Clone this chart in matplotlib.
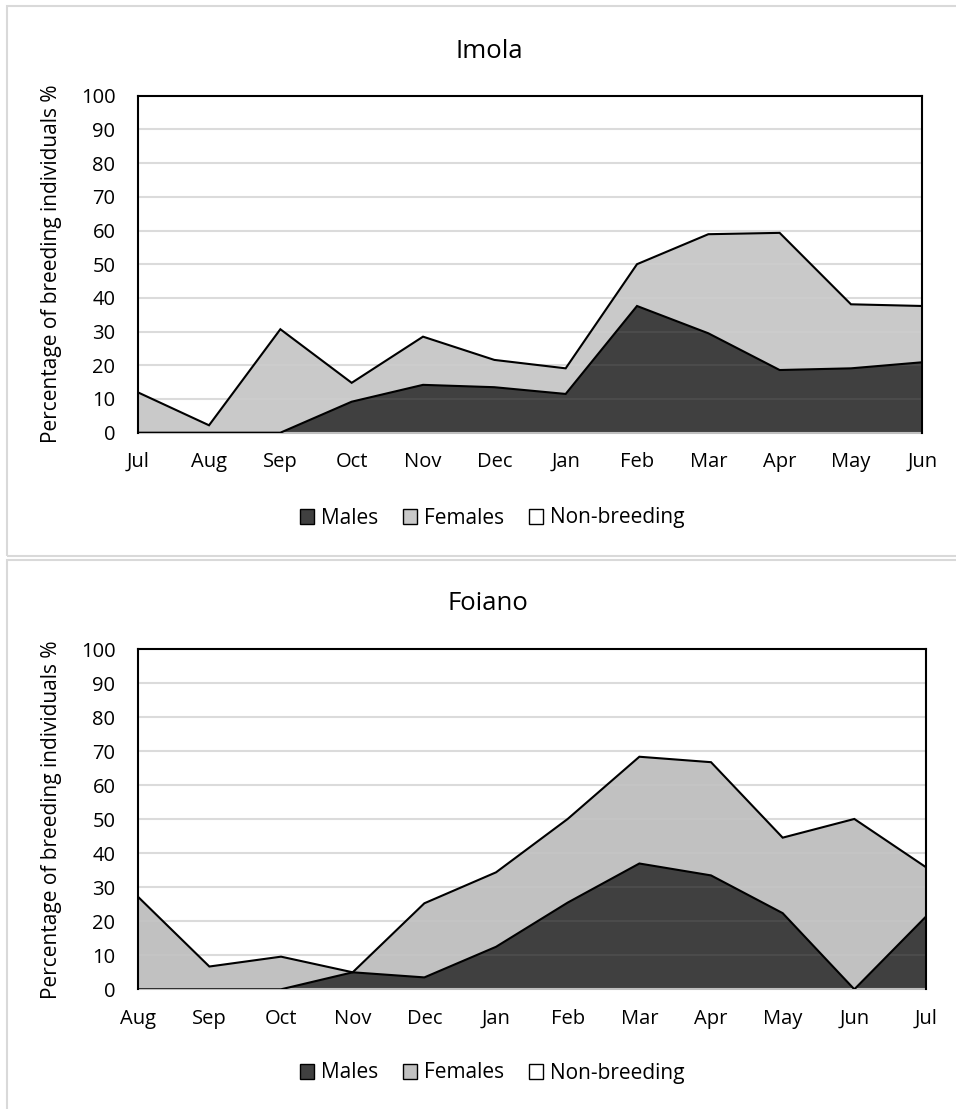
import numpy as np
import matplotlib.pyplot as plt
from matplotlib.patches import Rectangle, Patch

plt.rcParams['font.family'] = ['Open Sans', 'DejaVu Sans']

# Imola (Jul -> Jun)
imola_months = ['Jul', 'Aug', 'Sep', 'Oct', 'Nov', 'Dec', 'Jan', 'Feb', 'Mar', 'Apr', 'May', 'Jun']
imola_males = [0, 0, 0, 9.2, 14.2, 13.5, 11.5, 37.6, 29.5, 18.6, 19.1, 20.9]
imola_females = [12.0, 2.2, 30.7, 5.6, 14.3, 8.1, 7.6, 12.4, 29.4, 40.7, 19.0, 16.7]

# Foiano (Aug -> Jul)
foiano_months = ['Aug', 'Sep', 'Oct', 'Nov', 'Dec', 'Jan', 'Feb', 'Mar', 'Apr', 'May', 'Jun', 'Jul']
foiano_males = [0, 0, 0, 5.0, 3.5, 12.5, 25.5, 37.0, 33.5, 22.4, 0, 21.4]
foiano_females = [27.3, 6.7, 9.6, 0, 21.8, 21.9, 24.6, 31.4, 33.3, 22.2, 50.1, 14.5]

male_col = '#404040'
grid_col = '#d9d9d9'
W, H = 956, 1109

fig = plt.figure(figsize=(W / 100, H / 100), dpi=100)

# light gray chart-area borders (Excel chart boxes)
fig.patches.append(Rectangle((7 / W, 1 - 555.5 / H), 1.0, 549.5 / H,
                             transform=fig.transFigure, fill=False,
                             edgecolor=grid_col, linewidth=1.5))
fig.patches.append(Rectangle((7 / W, 1 - 1115 / H), 1.0, 555 / H,
                             transform=fig.transFigure, fill=False,
                             edgecolor=grid_col, linewidth=1.5))


def px_rect(left, top, right, bottom):
    return [left / W, 1 - bottom / H, (right - left) / W, (bottom - top) / H]


def draw_panel(rect, months, males, females, fem_col, title, title_xy, legend_xy):
    ax = fig.add_axes(rect)
    x = np.arange(len(months))
    m = np.array(males)
    tot = m + np.array(females)
    for yv in range(10, 100, 10):
        ax.axhline(yv, color=grid_col, linewidth=1.5, zorder=1)
    ax.fill_between(x, 0, m, facecolor=male_col, edgecolor='none', linewidth=0, zorder=2)
    ax.fill_between(x, m, tot, facecolor=fem_col, edgecolor='none', linewidth=0, zorder=2)
    # faint gridlines showing through the areas
    for yv in range(10, 100, 10):
        ax.axhline(yv, color='white', alpha=0.06, linewidth=1.5, zorder=2.5)
    ax.plot(x, m, color='black', linewidth=1.5, zorder=3, solid_joinstyle='miter')
    ax.plot(x, tot, color='black', linewidth=1.5, zorder=3, solid_joinstyle='miter')
    ax.set_xlim(0, len(months) - 1)
    ax.set_ylim(0, 100)
    ax.set_yticks(range(0, 101, 10))
    ax.set_xticks(x)
    ax.set_xticklabels(months)
    ax.tick_params(axis='both', length=0, labelsize=14.5, colors='black')
    ax.tick_params(axis='x', pad=14)
    ax.tick_params(axis='y', pad=16)
    for s in ['top', 'left', 'right']:
        ax.spines[s].set_color('black')
        ax.spines[s].set_linewidth(1.5)
        ax.spines[s].set_zorder(4)
    ax.spines['bottom'].set_color('#bfbfbf')
    ax.spines['bottom'].set_linewidth(1.5)
    ax.set_ylabel('Percentage of breeding individuals %', fontsize=15)
    ax.yaxis.set_label_coords((62 - 137.7) / (rect[2] * W), 0.5)
    fig.text(title_xy[0] / W, 1 - title_xy[1] / H, title,
             ha='center', va='center', fontsize=18.5)
    handles = [Patch(facecolor=male_col, edgecolor='black', label='Males'),
               Patch(facecolor=fem_col, edgecolor='black', label='Females'),
               Patch(facecolor='white', edgecolor='black', label='Non-breeding')]
    fig.legend(handles=handles, loc='center',
               bbox_to_anchor=(legend_xy[0] / W, 1 - legend_xy[1] / H),
               ncol=3, frameon=False, fontsize=15, handlelength=0.7, handleheight=0.7,
               handletextpad=0.3, columnspacing=1.2, borderpad=0)
    return ax


draw_panel(px_rect(137.7, 95.7, 922.3, 432.7), imola_months, imola_males, imola_females,
           '#c9c9c9', 'Imola', (489, 52), (492, 518))
draw_panel(px_rect(137.7, 649.3, 926, 989.3), foiano_months, foiano_males, foiano_females,
           '#c1c1c1', 'Foiano', (488, 604), (492, 1073))

fig.savefig('out.png', dpi=100)
